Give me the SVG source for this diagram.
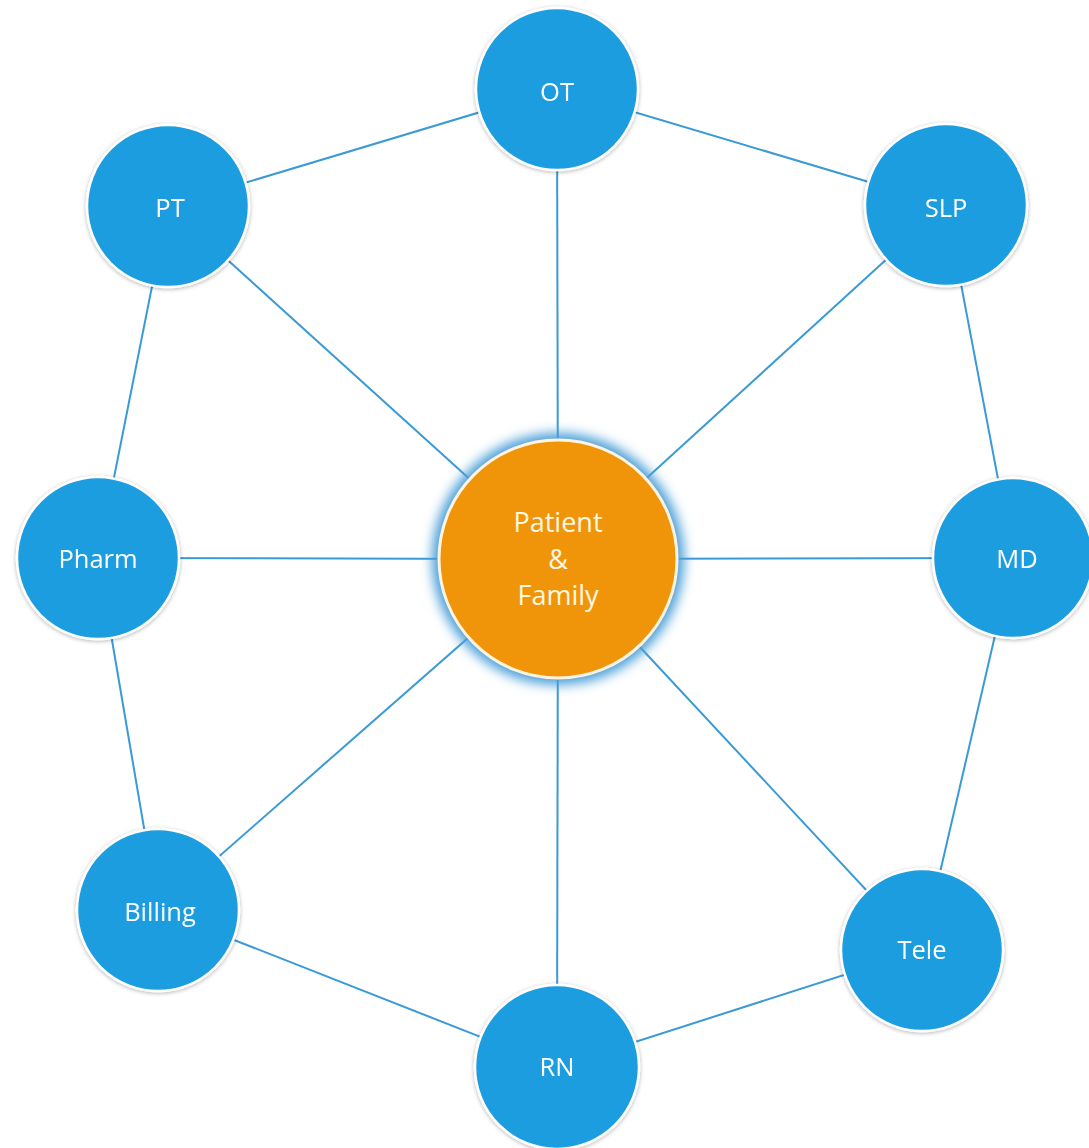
<svg xmlns="http://www.w3.org/2000/svg" width="1089" height="1148" viewBox="0 0 1089 1148">
<defs>
<style>
.link{stroke:#3a9ad6;stroke-width:2;fill:none}
.node{fill:#1c9ddf;stroke:#ffffff;stroke-width:2.5}
.lbl{font-family:"Open Sans","Noto Sans",sans-serif;font-size:25.5px;fill:#ffffff;text-anchor:middle;dominant-baseline:central}
.clbl{font-family:"Open Sans","Noto Sans",sans-serif;font-size:27px;fill:#fff8e0;text-anchor:middle}
</style>
<filter id="sh" x="-20%" y="-20%" width="140%" height="140%">
<feGaussianBlur in="SourceAlpha" stdDeviation="2"/>
<feOffset dx="0" dy="1"/>
<feComponentTransfer><feFuncA type="linear" slope="0.3"/></feComponentTransfer>
<feMerge><feMergeNode/><feMergeNode in="SourceGraphic"/></feMerge>
</filter>
<filter id="glow" x="-30%" y="-30%" width="160%" height="160%">
<feGaussianBlur stdDeviation="6"/>
</filter>
</defs>
<rect width="1089" height="1148" fill="#ffffff"/>
<g id="connectors">
<line class="link" x1="557" y1="89" x2="168" y2="206"/>
<line class="link" x1="557" y1="89" x2="946" y2="205"/>
<line class="link" x1="946" y1="205" x2="1013" y2="558"/>
<line class="link" x1="1013" y1="558" x2="922" y2="950"/>
<line class="link" x1="922" y1="950" x2="557" y2="1067"/>
<line class="link" x1="557" y1="1067" x2="158" y2="910"/>
<line class="link" x1="158" y1="910" x2="98" y2="558"/>
<line class="link" x1="98" y1="558" x2="168" y2="206"/>
<line class="link" x1="558" y1="559" x2="557" y2="89"/>
<line class="link" x1="558" y1="559" x2="168" y2="206"/>
<line class="link" x1="558" y1="559" x2="946" y2="205"/>
<line class="link" x1="558" y1="559" x2="98" y2="558"/>
<line class="link" x1="558" y1="559" x2="1013" y2="558"/>
<line class="link" x1="558" y1="559" x2="158" y2="910"/>
<line class="link" x1="558" y1="559" x2="922" y2="950"/>
<line class="link" x1="558" y1="559" x2="557" y2="1067"/>
</g>
<g id="center">
<circle cx="558" cy="559" r="126" fill="#4a9fd8" filter="url(#glow)"/>
<circle cx="558" cy="559" r="119" fill="#f0950a" stroke="#fdf3e0" stroke-width="3"/>
<text class="clbl" x="558" y="532">Patient</text>
<text class="clbl" x="558" y="569">&amp;</text>
<text class="clbl" x="558" y="605">Family</text>
</g>
<g id="ot" filter="url(#sh)"><circle class="node" cx="557" cy="89" r="81"/><text class="lbl" x="557" y="91">OT</text></g>
<g id="pt" filter="url(#sh)"><circle class="node" cx="168" cy="206" r="81"/><text class="lbl" x="170" y="207">PT</text></g>
<g id="slp" filter="url(#sh)"><circle class="node" cx="946" cy="205" r="81"/><text class="lbl" x="946" y="207">SLP</text></g>
<g id="pharm" filter="url(#sh)"><circle class="node" cx="98" cy="558" r="81"/><text class="lbl" x="98" y="558">Pharm</text></g>
<g id="md" filter="url(#sh)"><circle class="node" cx="1013" cy="558" r="80"/><text class="lbl" x="1017" y="558">MD</text></g>
<g id="billing" filter="url(#sh)"><circle class="node" cx="158" cy="910" r="81"/><text class="lbl" x="160" y="911">Billing</text></g>
<g id="tele" filter="url(#sh)"><circle class="node" cx="922" cy="950" r="81"/><text class="lbl" x="922" y="949">Tele</text></g>
<g id="rn" filter="url(#sh)"><circle class="node" cx="557" cy="1067" r="82"/><text class="lbl" x="557" y="1066">RN</text></g>
</svg>
